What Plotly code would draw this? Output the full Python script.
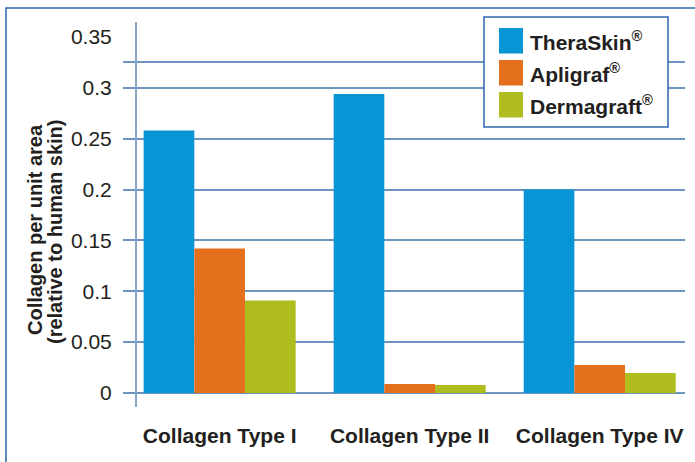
import plotly.graph_objects as go

categories = ["Collagen Type I", "Collagen Type II", "Collagen Type IV"]
series_names = ["TheraSkin", "Apligraf", "Dermagraft"]
theraskin = [0.258, 0.294, 0.200]
apligraf = [0.142, 0.0088, 0.0275]
dermagraft = [0.091, 0.0078, 0.0196]
series_values = [theraskin, apligraf, dermagraft]
colors = ["#0795d6", "#e4701e", "#b0bd1f"]

ytick_vals = [0, 0.05, 0.1, 0.15, 0.2, 0.25, 0.3, 0.35]
ytick_text = ["0", "0.05", "0.1", "0.15", "0.2", "0.25", "0.3", "0.35"]
grid_vals = [0, 0.05, 0.1, 0.15, 0.2, 0.25, 0.3, 0.325]

W, H = 695, 462
ML, MR, MT, MB = 137, 10, 22, 55
PW, PH = W - ML - MR, H - MT - MB

def px(x):
    return (x - ML) / PW

def py(y):
    return (H - MB - y) / PH

FONT = "Liberation Sans, Arial, sans-serif"
TXT = "#231f20"
GRID = "#6d93bf"
FRAME = "#2b65a8"

fig = go.Figure()
for name, vals, col in zip(series_names, series_values, colors):
    fig.add_trace(go.Bar(x=categories, y=vals, name=name, marker_color=col,
                         marker_line_width=0, showlegend=False))

fig.update_layout(
    width=W, height=H,
    margin=dict(l=ML, r=MR, t=MT, b=MB, autoexpand=False),
    paper_bgcolor="white", plot_bgcolor="white",
    barmode="group", bargap=0.2, bargroupgap=0,
    font=dict(family=FONT, color=TXT),
)
fig.update_xaxes(
    range=[-0.435, 2.449], showgrid=False, showline=False, zeroline=False,
    ticks="", tickfont=dict(size=21, weight="bold", color=TXT),
    ticklabelstandoff=14, automargin=False,
)
fig.update_yaxes(
    range=[-0.0138, 0.3648], tickmode="array", tickvals=ytick_vals, ticktext=ytick_text,
    showgrid=False, zeroline=False, ticks="", automargin=False,
    showline=True, linecolor="#86a6c8", linewidth=2,
    tickfont=dict(size=21, color=TXT), ticklabelstandoff=19,
    minor=dict(tickmode="array", tickvals=grid_vals, showgrid=True, gridcolor=GRID,
               gridwidth=1.5, ticks="outside", ticklen=12, tickcolor=GRID, tickwidth=1.5),
)

shapes = []
# outer frame
shapes.append(dict(type="rect", xref="paper", yref="paper", x0=px(6), x1=px(W + 20),
                   y0=py(H + 20), y1=py(8), line=dict(color=FRAME, width=1.5),
                   fillcolor="rgba(0,0,0,0)", layer="above"))
# legend box
shapes.append(dict(type="rect", xref="paper", yref="paper", x0=px(484), x1=px(668),
                   y0=py(127), y1=py(17), line=dict(color=FRAME, width=1.5),
                   fillcolor="white", layer="above"))
annotations = []
row_tops = [28, 60, 92]
for name, col, top in zip(series_names, colors, row_tops):
    shapes.append(dict(type="rect", xref="paper", yref="paper", x0=px(499), x1=px(523),
                       y0=py(top + 25.5), y1=py(top), line=dict(width=0),
                       fillcolor=col, layer="above"))
    annotations.append(dict(xref="paper", yref="paper", x=px(528), y=py(top + 13),
                            xanchor="left", yanchor="middle", showarrow=False,
                            text="<b>" + name + "<sup>®</sup></b>",
                            font=dict(size=21, color=TXT, family=FONT)))
# y axis title
annotations.append(dict(xref="paper", yref="paper", x=px(35), y=py(230), textangle=-90,
                        xanchor="center", yanchor="middle", showarrow=False,
                        text="<b>Collagen per unit area</b>",
                        font=dict(size=20, color=TXT, family=FONT)))
annotations.append(dict(xref="paper", yref="paper", x=px(55), y=py(232), textangle=-90,
                        xanchor="center", yanchor="middle", showarrow=False,
                        text="<b>(relative to human skin)</b>",
                        font=dict(size=20, color=TXT, family=FONT)))
fig.update_layout(shapes=shapes, annotations=annotations)

fig.write_html("out.html", config={"displayModeBar": False},
               post_script="document.body.style.margin='0';document.body.style.overflow='hidden';")
